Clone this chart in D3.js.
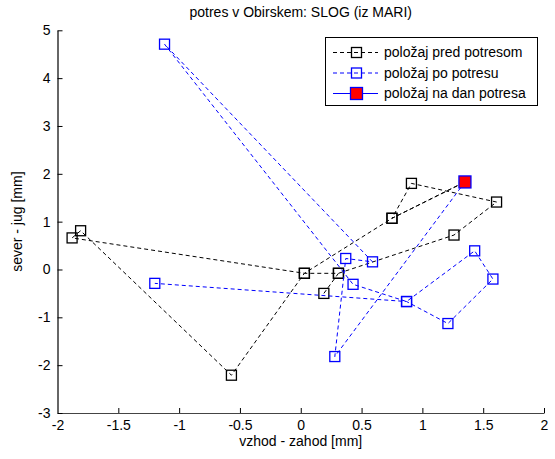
<!DOCTYPE html>
<html>
<head>
<meta charset="utf-8">
<script src="https://cdn.jsdelivr.net/npm/d3@7"></script>
<style>
  body { margin: 0; background: #fff; }
  svg { display: block; }
  text { font-family: "Liberation Sans", Arial, sans-serif; fill: #000; }
</style>
</head>
<body>
<svg id="chart" width="555" height="459"></svg>
<script>
// ---- data ----
const titleText = "potres v Obirskem: SLOG (iz MARI)";
const xLabel = "vzhod - zahod [mm]";
const yLabel = "sever - jug [mm]";

const xTicks = [-2, -1.5, -1, -0.5, 0, 0.5, 1, 1.5, 2];
const xTickLabels = ["-2", "-1.5", "-1", "-0.5", "0", "0.5", "1", "1.5", "2"];
const yTicks = [-3, -2, -1, 0, 1, 2, 3, 4, 5];
const yTickLabels = ["-3", "-2", "-1", "0", "1", "2", "3", "4", "5"];

// before earthquake (black)
const beforeX = [0.19, 0.31, 0.03, -1.88, -1.81, -0.57, 0.03, 0.75, 1.35, 0.75, 0.91, 1.61, 1.26, 0.31];
const beforeY = [-0.50, -0.08, -0.08, 0.66, 0.81, -2.21, -0.08, 1.07, 1.83, 1.07, 1.80, 1.41, 0.72, -0.08];

// after earthquake (blue)
const afterX = [1.35, 0.28, 0.37, 0.59, -1.12, 0.43, 0.87, 1.43, 1.58, 1.21, 0.87, -1.20];
const afterY = [1.83, -1.82, 0.23, 0.16, 4.71, -0.31, -0.67, 0.39, -0.20, -1.13, -0.67, -0.29];

// day of the earthquake (red)
const dayX = [1.35];
const dayY = [1.83];

const legendLabels = ["položaj pred potresom", "položaj po potresu", "položaj na dan potresa"];

// ---- drawing ----
(function () {
const svg = d3.select("#chart");
const pl = 57.5, pr = 544, pt = 30.3, pb = 413;
const x = d3.scaleLinear().domain([-2, 2]).range([pl, pr]);
const y = d3.scaleLinear().domain([-3, 5]).range([pb, pt]);

const FONT = 14;

// axes
const gx = svg.append("g").attr("transform", `translate(0,${pb})`)
  .call(d3.axisBottom(x).tickValues(xTicks)
    .tickFormat((d, i) => xTickLabels[i])
    .tickSizeInner(-5).tickSizeOuter(0).tickPadding(7));
const gy = svg.append("g").attr("transform", `translate(${pl},0)`)
  .call(d3.axisLeft(y).tickValues(yTicks)
    .tickFormat((d, i) => yTickLabels[i])
    .tickSizeInner(-5).tickSizeOuter(0).tickPadding(7));
[gx, gy].forEach(g => {
  g.selectAll("text").attr("font-size", FONT).attr("font-family", '"Liberation Sans", Arial, sans-serif').attr("fill", "#000");
  g.selectAll("line").attr("stroke", "#000");
});
gx.select(".domain").attr("stroke", "#444").attr("stroke-width", 1.2);
gy.select(".domain").attr("stroke", "#666").attr("stroke-width", 2);

// title & labels
svg.append("text").attr("x", (pl + pr) / 2).attr("y", 17)
  .attr("text-anchor", "middle").attr("font-size", FONT).text(titleText);
svg.append("text").attr("x", (pl + pr) / 2).attr("y", 446)
  .attr("text-anchor", "middle").attr("font-size", FONT).text(xLabel);
svg.append("text").attr("transform", `translate(22,${(pt + pb) / 2}) rotate(-90)`)
  .attr("text-anchor", "middle").attr("font-size", FONT).text(yLabel);

const DASH = "4,3";
const MS = 10;

function series(xs, ys, color) {
  const pts = xs.map((v, i) => [v, ys[i]]);
  svg.append("path").datum(pts)
    .attr("d", d3.line().x(d => x(d[0])).y(d => y(d[1])))
    .attr("fill", "none").attr("stroke", color).attr("stroke-width", 1)
    .attr("stroke-dasharray", DASH);
  svg.append("g").selectAll("rect").data(pts).join("rect")
    .attr("x", d => x(d[0]) - MS / 2).attr("y", d => y(d[1]) - MS / 2)
    .attr("width", MS).attr("height", MS)
    .attr("fill", "none").attr("stroke", color).attr("stroke-width", 1.3);
}
series(beforeX, beforeY, "#000");
series(afterX, afterY, "#0000ff");

// red point
const RS = 12;
svg.append("g").selectAll("rect").data(dayX.map((v, i) => [v, dayY[i]])).join("rect")
  .attr("x", d => x(d[0]) - RS / 2).attr("y", d => y(d[1]) - RS / 2)
  .attr("width", RS).attr("height", RS)
  .attr("fill", "#ff0000").attr("stroke", "#0000ff").attr("stroke-width", 1.3);

// legend
const lg = svg.append("g");
lg.append("rect").attr("x", 325.5).attr("y", 37.5).attr("width", 212).attr("height", 68)
  .attr("fill", "#fff").attr("stroke", "#000").attr("stroke-width", 1);
const rowsY = [52.5, 73, 93.5];
const styles = [
  { stroke: "#000", dash: DASH, fill: "none", edge: "#000", size: MS },
  { stroke: "#0000ff", dash: DASH, fill: "none", edge: "#0000ff", size: MS },
  { stroke: "#0000ff", dash: null, fill: "#ff0000", edge: "#0000ff", size: RS }
];
legendLabels.forEach((lab, i) => {
  const s = styles[i], yy = rowsY[i];
  lg.append("line").attr("x1", 333).attr("x2", 378).attr("y1", yy).attr("y2", yy)
    .attr("stroke", s.stroke).attr("stroke-width", 1)
    .attr("stroke-dasharray", s.dash);
  lg.append("rect").attr("x", 356.5 - s.size / 2).attr("y", yy - s.size / 2)
    .attr("width", s.size).attr("height", s.size)
    .attr("fill", s.fill).attr("stroke", s.edge).attr("stroke-width", 1.3);
  lg.append("text").attr("x", 384).attr("y", yy).attr("dy", "0.35em")
    .attr("font-size", FONT).text(lab);
});
})();
</script>
</body>
</html>
